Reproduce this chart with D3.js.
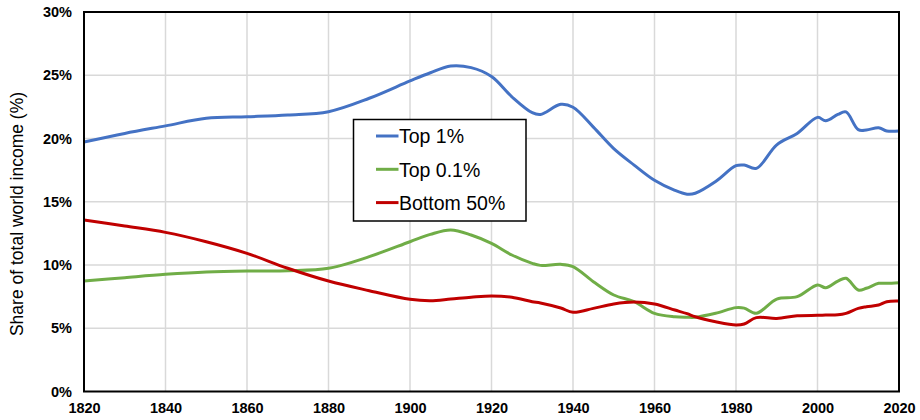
<!DOCTYPE html>
<html>
<head>
<meta charset="utf-8">
<script src="https://cdn.jsdelivr.net/npm/d3@7"></script>
<style>
  body { margin: 0; background: #fff; }
  svg { display: block; font-family: "Liberation Sans", Arial, sans-serif; }
</style>
</head>
<body>
<div id="chart"></div>
<script>
// values (% of world income)
const years   = [1820,1830,1840,1850,1860,1870,1880,1890,1900,1905,1910,1915,1920,1925,1930,1932,1937,1940,1945,1950,1955,1960,1965,1968,1970,1975,1980,1982,1985,1990,1995,2000,2002,2005,2007,2010,2012,2015,2017,2020];
const top1    = [19.72,20.4,21.0,21.6,21.72,21.86,22.12,23.18,24.55,25.2,25.73,25.6,24.9,23.3,22.04,21.9,22.7,22.47,20.9,19.2,17.9,16.7,15.9,15.6,15.67,16.6,17.85,17.9,17.64,19.5,20.4,21.67,21.4,21.9,22.1,20.7,20.67,20.85,20.6,20.6];
const top01   = [8.73,9.0,9.26,9.45,9.53,9.55,9.74,10.66,11.84,12.42,12.77,12.37,11.71,10.79,10.13,9.97,10.05,9.87,8.68,7.63,7.1,6.18,5.91,5.87,5.87,6.18,6.63,6.59,6.18,7.31,7.5,8.42,8.21,8.73,8.95,8.02,8.16,8.55,8.55,8.6];
const bottom50 = [13.56,13.08,12.58,11.84,10.92,9.74,8.73,7.97,7.29,7.18,7.31,7.45,7.55,7.45,7.1,7.0,6.6,6.26,6.57,6.92,7.07,6.92,6.44,6.15,5.91,5.52,5.26,5.34,5.84,5.78,5.99,6.02,6.04,6.06,6.18,6.57,6.7,6.84,7.1,7.15];
const seriesNames = ["Top 1%", "Top 0.1%", "Bottom 50%"];
const xTicks = [1820,1840,1860,1880,1900,1920,1940,1960,1980,2000,2020];
const yTicks = [0,5,10,15,20,25,30];

const W = 920, H = 420;
const margin = {top: 12, right: 21, bottom: 28.5, left: 84};

const svg = d3.select('#chart').append('svg').attr('width', W).attr('height', H);

const x = d3.scaleLinear().domain([1820, 2020]).range([margin.left, W - margin.right]);
const y = d3.scaleLinear().domain([0, 30]).range([H - margin.bottom, margin.top]);

// grid
svg.append('g').selectAll('line.v')
  .data(xTicks.slice(1, -1)).enter().append('line')
  .attr('x1', d => x(d)).attr('x2', d => x(d))
  .attr('y1', y(30)).attr('y2', y(0))
  .attr('stroke', '#d9d9d9').attr('stroke-width', 1.5);
svg.append('g').selectAll('line.h')
  .data(yTicks.slice(1, -1)).enter().append('line')
  .attr('x1', x(1820)).attr('x2', x(2020))
  .attr('y1', d => y(d)).attr('y2', d => y(d))
  .attr('stroke', '#d9d9d9').attr('stroke-width', 1.5);

// axes (labels only)
const xAxis = d3.axisBottom(x).tickValues(xTicks).tickFormat(d3.format('d')).tickSize(0).tickPadding(11.5);
const yAxis = d3.axisLeft(y).tickValues(yTicks).tickFormat(d => d + '%').tickSize(0).tickPadding(12);

svg.append('g').attr('transform', 'translate(0,' + y(0) + ')').call(xAxis)
  .call(g => g.select('.domain').remove())
  .selectAll('text').attr('font-size', 14.5).attr('font-weight', 'bold').attr('fill', '#000')
  .attr('font-family', '"Liberation Sans", Arial, sans-serif');
svg.append('g').attr('transform', 'translate(' + x(1820) + ',0)').call(yAxis)
  .call(g => g.select('.domain').remove())
  .selectAll('text').attr('font-size', 14.5).attr('font-weight', 'bold').attr('fill', '#000')
  .attr('font-family', '"Liberation Sans", Arial, sans-serif');

// lines
const data = [top1, top01, bottom50];
const colors = ['#4472C4', '#70AD47', '#C00000'];
const line = d3.line()
  .x((d, i) => x(years[i]))
  .y(d => y(d))
  .curve(d3.curveCatmullRom.alpha(0.5));

svg.append('g').selectAll('path')
  .data(data).enter().append('path')
  .attr('d', line)
  .attr('fill', 'none')
  .attr('stroke', (d, i) => colors[i])
  .attr('stroke-width', 3)
  .attr('stroke-linejoin', 'round');

// plot border
svg.append('rect')
  .attr('x', x(1820)).attr('y', y(30))
  .attr('width', x(2020) - x(1820)).attr('height', y(0) - y(30))
  .attr('fill', 'none').attr('stroke', '#000').attr('stroke-width', 2);

// y title
svg.append('text')
  .attr('transform', 'translate(22.5,214) rotate(-90)')
  .attr('text-anchor', 'middle')
  .attr('font-size', 17.5)
  .text('Share of total world income (%)');

// legend
const lg = svg.append('g').attr('transform', 'translate(353.5,119.5)');
lg.append('rect').attr('width', 172.5).attr('height', 101.5)
  .attr('fill', '#fff').attr('stroke', '#000').attr('stroke-width', 1.5);
const items = lg.selectAll('g.item')
  .data(seriesNames).enter().append('g')
  .attr('transform', (d, i) => 'translate(0,' + (16.5 + i * 33.3) + ')');
items.append('line')
  .attr('x1', 22.5).attr('x2', 45)
  .attr('stroke', (d, i) => colors[i]).attr('stroke-width', 3);
items.append('text')
  .attr('x', 45.5).attr('y', 7.3)
  .attr('font-size', 19.5)
  .text(d => d);
</script>
</body>
</html>
